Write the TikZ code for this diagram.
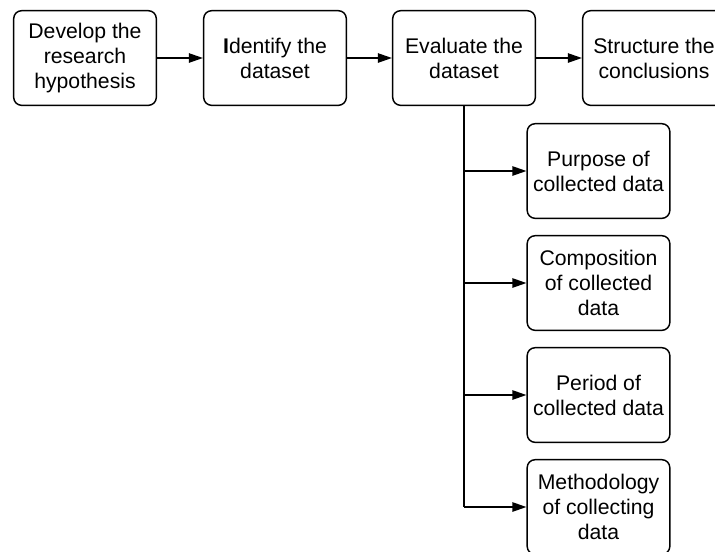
\documentclass[tikz,border=0pt]{standalone}
\usepackage{fontspec}
\setmainfont{Liberation Sans}
\usetikzlibrary{arrows.meta}
\begin{document}
\begin{tikzpicture}[x=0.75pt,y=-0.75pt,
  stepbox/.style={draw=black, line width=1.1pt, rounded corners=6pt, fill=white,
    minimum width=107pt, minimum height=71pt, align=center, inner sep=2pt,
    font=\fontsize{15.9}{18.8}\selectfont},
  link/.style={line width=1.1pt, -{Triangle[length=10.5pt,width=7pt]}},
  trunk/.style={line width=1.1pt}]
  \useasboundingbox (0,0) rectangle (715,551);
  \clip (0,0) rectangle (715,551);
  % main sequence
  \node[stepbox] (b1) at (85,58) {Develop the\\research\\hypothesis};
  \node[stepbox] (b2) at (275,58) {\textbf{I}dentify the\\dataset};
  \node[stepbox] (b3) at (464,58) {Evaluate the\\dataset};
  \node[stepbox] (b4) at (654,58) {Structure the\\conclusions};
  \draw[link] (b1) -- (b2);
  \draw[link] (b2) -- (b3);
  \draw[link] (b3) -- (b4);
  % evaluation criteria
  \node[stepbox] (s1) at (598.5,171) {Purpose of\\collected data};
  \node[stepbox] (s2) at (598.5,283) {Composition\\of collected\\data};
  \node[stepbox] (s3) at (598.5,395) {Period of\\collected data};
  \node[stepbox] (s4) at (598.5,507) {Methodology\\of collecting\\data};
  \coordinate (j1) at (b3.south |- s1.west);
  \coordinate (j2) at (b3.south |- s2.west);
  \coordinate (j3) at (b3.south |- s3.west);
  \coordinate (j4) at (b3.south |- s4.west);
  \draw[trunk] (b3.south) -- (j4);
  \draw[link] (j1) -- (s1);
  \draw[link] (j2) -- (s2);
  \draw[link] (j3) -- (s3);
  \draw[link] (j4) -- (s4);
\end{tikzpicture}
\end{document}
